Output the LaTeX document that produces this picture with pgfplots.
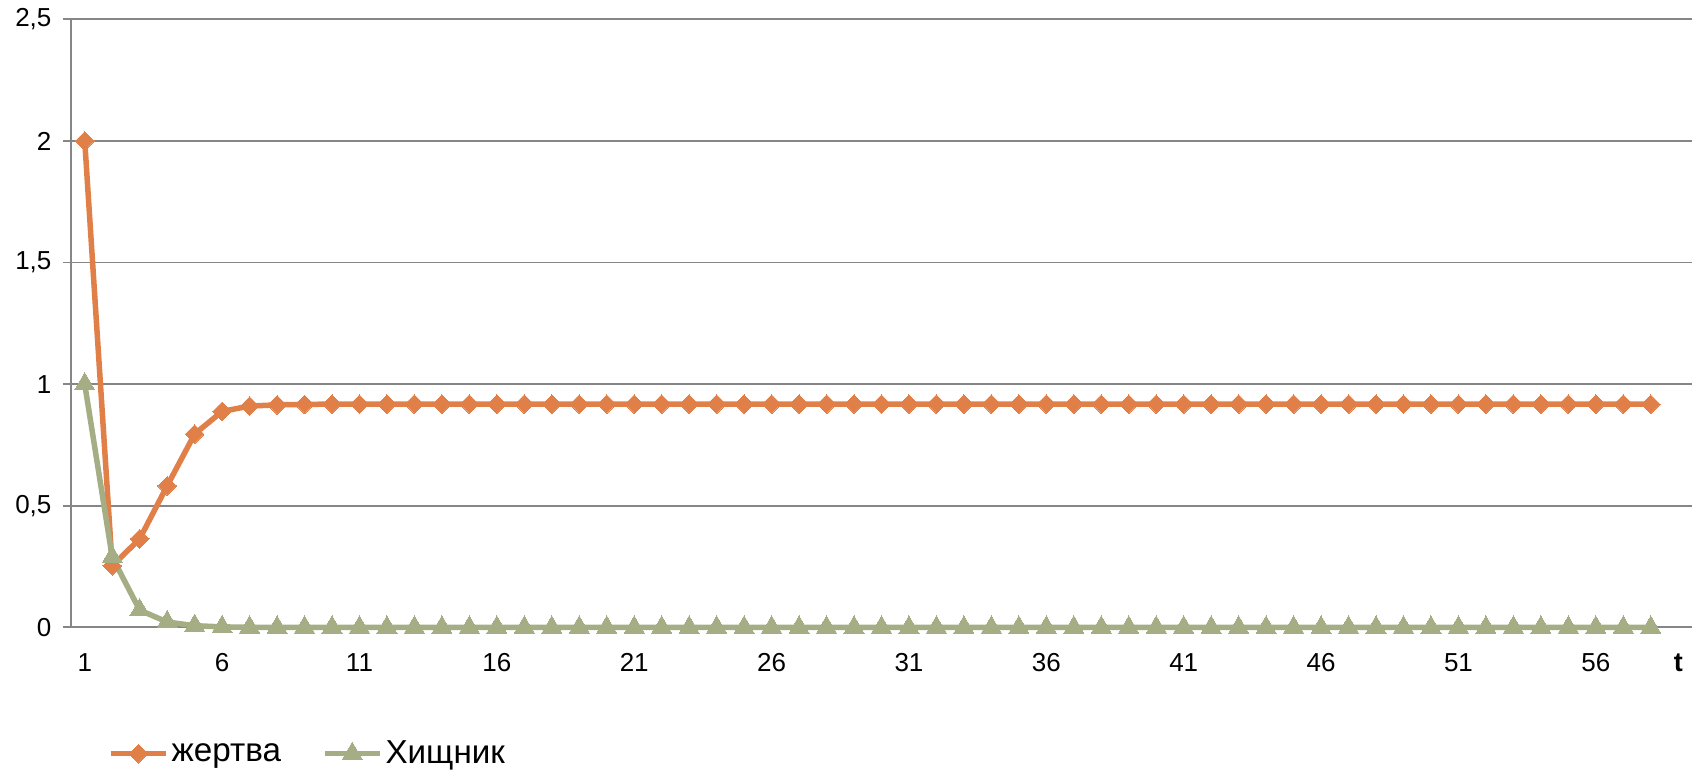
\documentclass[border=0pt]{standalone}
\usepackage{fontspec}
\setmainfont{Liberation Sans}
\usepackage{pgfplots}
\pgfplotsset{compat=1.18}

\definecolor{prey}{RGB}{224,128,72}
\definecolor{pred}{RGB}{165,173,133}
\definecolor{gridgray}{RGB}{134,134,134}

\pgfplotstableread{
t   prey    pred
1   2.000   1.000
2   0.253   0.289
3   0.364   0.071
4   0.582   0.022
5   0.795   0.007
6   0.888   0.002
7   0.910   0.0006
8   0.915   0.0002
9   0.917   0.0001
10  0.918   0
11  0.918   0
12  0.918   0
13  0.918   0
14  0.918   0
15  0.918   0
16  0.918   0
17  0.918   0
18  0.918   0
19  0.918   0
20  0.918   0
21  0.918   0
22  0.918   0
23  0.918   0
24  0.918   0
25  0.918   0
26  0.918   0
27  0.918   0
28  0.918   0
29  0.918   0
30  0.918   0
31  0.918   0
32  0.918   0
33  0.918   0
34  0.918   0
35  0.918   0
36  0.918   0
37  0.918   0
38  0.918   0
39  0.918   0
40  0.918   0
41  0.918   0
42  0.918   0
43  0.918   0
44  0.918   0
45  0.918   0
46  0.918   0
47  0.918   0
48  0.918   0
49  0.918   0
50  0.918   0
51  0.918   0
52  0.918   0
53  0.918   0
54  0.918   0
55  0.918   0
56  0.918   0
57  0.918   0
58  0.918   0
}\datatable

\begin{document}
\begin{tikzpicture}
\useasboundingbox (-35.5pt,-73.15pt) rectangle (811.5pt,313.7pt);
\begin{axis}[
  scale only axis,
  width=810.5pt, height=304pt,
  xmin=0.5, xmax=59.5,
  ymin=0, ymax=2.5,
  axis x line*=bottom,
  axis y line*=left,
  axis line style={gridgray, line width=0.9pt},
  x axis line style={-}, y axis line style={-},
  ytick={0,0.5,1,1.5,2,2.5},
  yticklabels={0,{0,5},1,{1,5},2,{2,5}},
  ymajorgrids,
  grid style={gridgray, line width=0.9pt},
  tick align=outside,
  major tick length=4pt,
  tick style={gridgray, line width=0.9pt},
  xtick={1,6,11,16,21,26,31,36,41,46,51,56,59},
  xticklabels={1,6,11,16,21,26,31,36,41,46,51,56,{\fontsize{13.5}{16}\selectfont\bfseries t}},
  x tick style={draw=none},
  extra x ticks={0.5,5.5,10.5,15.5,20.5,25.5,30.5,35.5,40.5,45.5,50.5,55.5},
  extra x tick labels={},
  extra x tick style={tick style={draw=gridgray, line width=0.9pt}, grid=none},
  ticklabel style={font=\fontsize{13}{15}\selectfont, text=black},
  xticklabel style={yshift=-5.5pt},
  yticklabel style={xshift=-2.25pt},
  /pgf/number format/assume math mode=true,
  clip=false,
  legend style={
    at={(0.019,-0.2077)}, anchor=west,
    draw=none, fill=none,
    legend columns=2,
    font=\fontsize{16.6}{19}\selectfont,
    nodes={inner xsep=1.5pt},
    /tikz/every even column/.append style={column sep=19pt},
    legend cell align=left,
  },
  legend image code/.code={%
    \draw[mark repeat=2, mark phase=2, #1] plot coordinates {(0pt,0pt) (13.75pt,0pt) (27.5pt,0pt)};},
]
\addplot[prey, line width=2.75pt, mark=square*, mark size=3.3pt,
  mark options={rotate=45, solid, fill=prey, draw=prey, line width=0pt}]
  table[x=t, y=prey] {\datatable};
\addlegendentry{жертва}
\addplot[pred, line width=2.75pt, mark=triangle*, mark size=5.8pt,
  mark options={solid, fill=pred, draw=pred, line width=0pt}]
  table[x=t, y=pred] {\datatable};
\addlegendentry{Хищник}
\end{axis}
\end{tikzpicture}
\end{document}
